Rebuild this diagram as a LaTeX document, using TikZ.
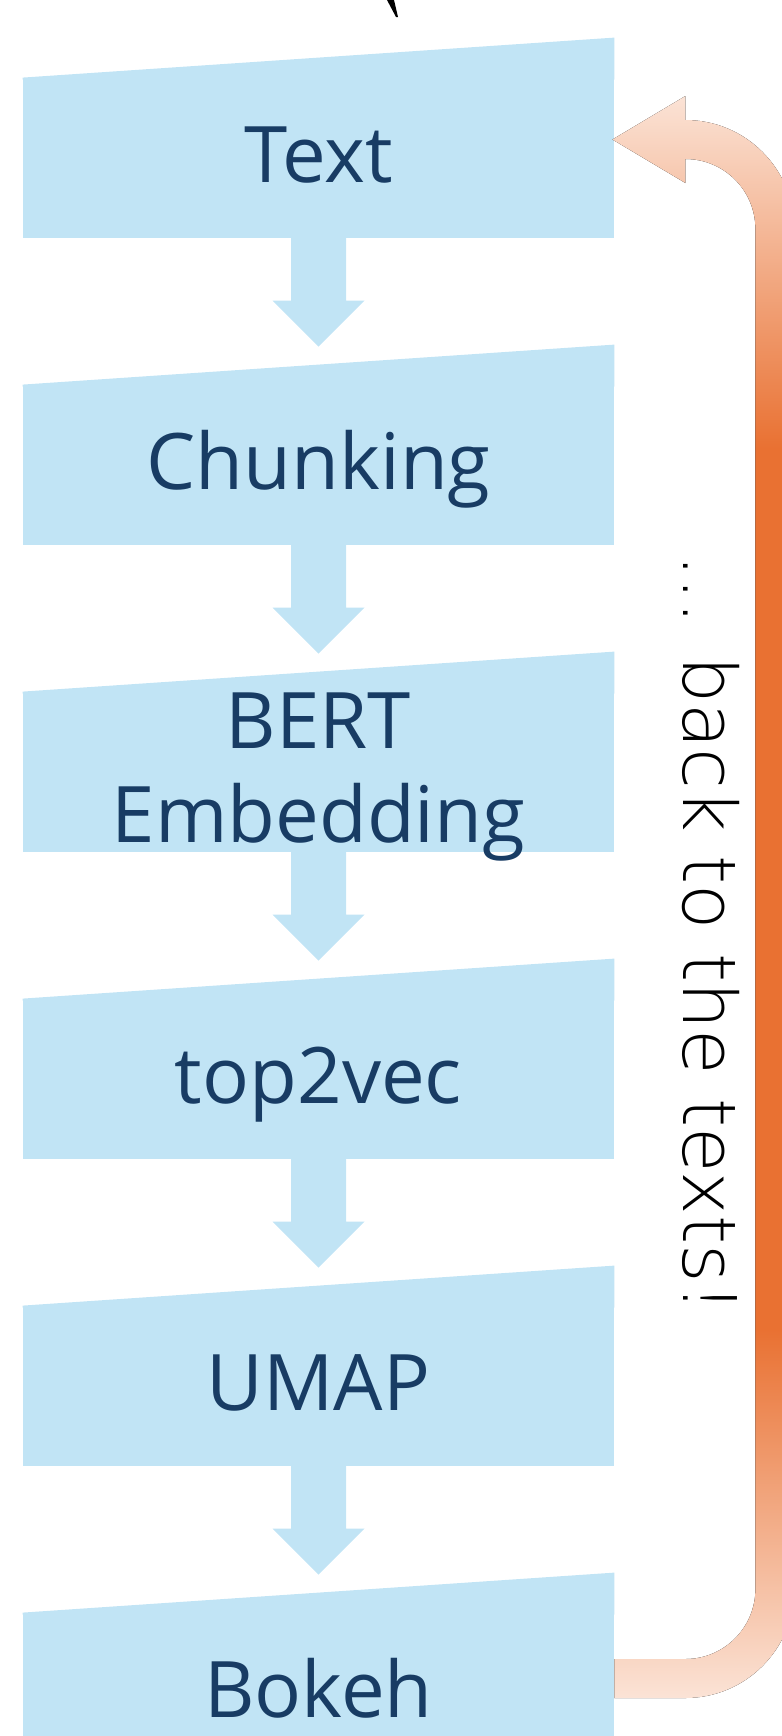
\documentclass[tikz,border=0pt]{standalone}
\usepackage{fontspec}
\newfontfamily\boxfont{Open Sans}
\newfontfamily\handfont{DejaVu Sans ExtraLight}
\usetikzlibrary{calc}

\definecolor{boxblue}{HTML}{C1E4F5}
\definecolor{labelnavy}{HTML}{183C64}
\definecolor{loopOrange}{HTML}{E97132}
\definecolor{loopLight}{HTML}{FBE3D6}
\pgfdeclareverticalshading{loopfade}{100bp}{color(0bp)=(loopLight); color(25bp)=(loopLight);
  color(36.5bp)=(loopOrange); color(64bp)=(loopOrange); color(75bp)=(loopLight); color(100bp)=(loopLight)}

\tikzset{
  stepbox/.style={fill=boxblue, minimum width=295.5pt, minimum height=80pt, inner sep=0pt},
  steplabel/.style={text=labelnavy, font=\boxfont\fontsize{39}{47}\selectfont, inner sep=0pt, align=center},
}

% slanted top of a step box
\newcommand{\boxtop}[1]{\fill[boxblue] ([yshift=-1pt]#1.north west) -- (#1.north west) -- ([yshift=20pt]#1.north east)
  -- ([yshift=-1pt]#1.north east) -- cycle;}
% block arrow from one step to the next
\newcommand{\flowarrow}[2]{\fill[boxblue] ([xshift=-13.75pt,yshift=1pt]#1.south) -- ([xshift=-13.75pt,yshift=42pt]#2.north)
  -- ([xshift=-23pt,yshift=42pt]#2.north) -- ([yshift=19pt]#2.north) -- ([xshift=23pt,yshift=42pt]#2.north)
  -- ([xshift=13.75pt,yshift=42pt]#2.north) -- ([xshift=13.75pt,yshift=1pt]#1.south) -- cycle;}

\begin{document}
\begin{tikzpicture}[x=0.5pt, y=-0.5pt]
        \path[use as bounding box, clip] (0,0) rectangle (782,1736);
        \node[stepbox] (texts) at (318.5,158) {};
        \node[stepbox] (chunking) at (318.5,465) {};
        \node[stepbox] (bert) at (318.5,772) {};
        \node[stepbox] (top2vec) at (318.5,1079) {};
        \node[stepbox] (umap) at (318.5,1386) {};
        \node[stepbox] (bokeh) at (318.5,1693) {};
        \boxtop{texts} \boxtop{chunking} \boxtop{bert}
        \boxtop{top2vec} \boxtop{umap} \boxtop{bokeh}
        \flowarrow{texts}{chunking}
        \flowarrow{chunking}{bert}
        \flowarrow{bert}{top2vec}
        \flowarrow{top2vec}{umap}
        \flowarrow{umap}{bokeh}
        % loop back from Bokeh to Text
        \coordinate (loopfrom) at ([yshift=7.25pt]bokeh.east);
        \coordinate (loopto) at ([xshift=-1pt,yshift=9.25pt]texts.east);
        \fill[shading=loopfade] ([yshift=-9.75pt]loopfrom) -- ++(71,0)
            arc[start angle=90, end angle=0, radius=109] -- ++(0,-1360)
            arc[start angle=0, end angle=-90, radius=109] -- ++(0,-24)
            -- (loopto) -- ++(73,43.5) -- ++(0,-24)
            arc[start angle=-90, end angle=0, radius=70] -- ++(0,1360)
            arc[start angle=0, end angle=90, radius=70] -- ++(-71,0) -- cycle;
        \node[steplabel, anchor=base, yshift=-12pt] (textlabel) at (texts.center) {Text};
        \node[steplabel, anchor=base, yshift=-12pt] (chunklabel) at (chunking.center) {Chunking};
        \node[steplabel, yshift=-2.5pt] (bertlabel) at (bert.center) {BERT\\Embedding};
        \node[steplabel, anchor=base, yshift=-12pt] (veclabel) at (top2vec.center) {top2vec};
        \node[steplabel, anchor=base, yshift=-12pt] (umaplabel) at (umap.center) {UMAP};
        \node[steplabel, anchor=base, yshift=-12pt] (bokehlabel) at (bokeh.center) {Bokeh};
        \node[rotate=-90, anchor=base west, inner sep=0pt, font=\handfont\fontsize{37}{44}\selectfont] (backnote) at (683,554) {... back to the texts!};
        % stray pen mark at the top edge
        \fill (387,0) -- (394,0) -- (398,17) -- (396,17) -- cycle;
\end{tikzpicture}
\end{document}
